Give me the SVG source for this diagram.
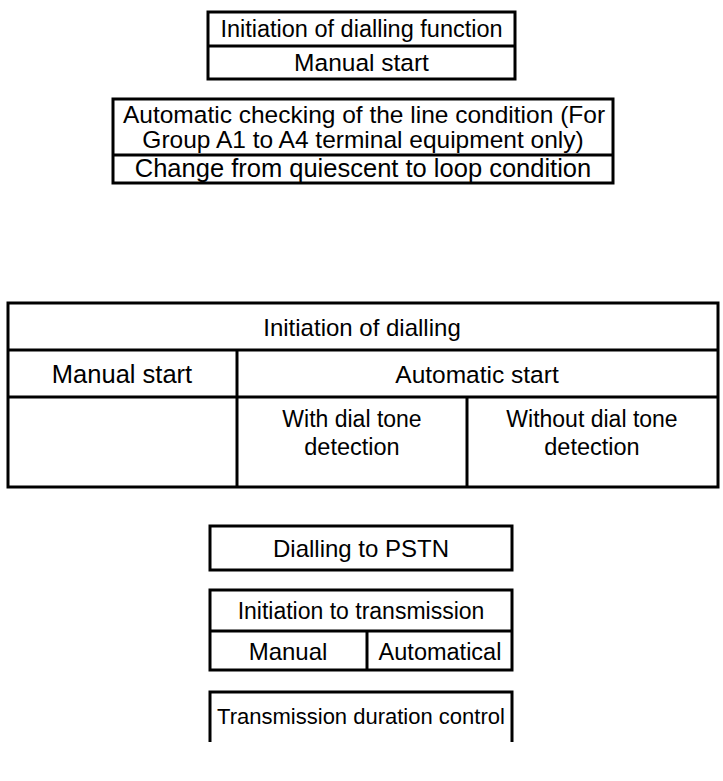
<svg xmlns="http://www.w3.org/2000/svg" width="723" height="781" viewBox="0 0 723 781">
<style>
.b{fill:none;stroke:#000;stroke-width:3}
.l{stroke:#000;stroke-width:3;fill:none}
text{font-family:"Liberation Sans",Arial,sans-serif;font-size:24px;fill:#000;text-anchor:middle}
</style>
<rect width="723" height="781" fill="#fff"/>
<g id="node-dialling-function">
<rect class="b" x="208" y="12" width="307" height="67"/>
<line class="l" x1="208" y1="46" x2="515" y2="46"/>
<text x="361.5" y="37" style="font-size:23.5px">Initiation of dialling function</text>
<text x="361.5" y="71" style="font-size:24.5px">Manual start</text>
</g>
<g id="node-line-check">
<rect class="b" x="113" y="99" width="500" height="84"/>
<line class="l" x1="113" y1="155" x2="613" y2="155"/>
<text x="364" y="123" style="font-size:24.5px">Automatic checking of the line condition (For</text>
<text x="363" y="148" style="font-size:24.5px">Group A1 to A4 terminal equipment only)</text>
<text x="363" y="177" style="font-size:25.5px">Change from quiescent to loop condition</text>
</g>
<g id="node-initiation-dialling">
<rect class="b" x="8" y="303" width="710" height="184"/>
<line class="l" x1="8" y1="350" x2="718" y2="350"/>
<line class="l" x1="8" y1="397" x2="718" y2="397"/>
<line class="l" x1="237" y1="350" x2="237" y2="487"/>
<line class="l" x1="467" y1="397" x2="467" y2="487"/>
<text x="362" y="336">Initiation of dialling</text>
<text x="122" y="383" style="font-size:25.5px">Manual start</text>
<text x="477" y="383" style="font-size:24.5px">Automatic start</text>
<text x="352" y="427" style="font-size:23px">With dial tone</text>
<text x="352" y="455" style="font-size:23.5px">detection</text>
<text x="592" y="427" style="font-size:23px">Without dial tone</text>
<text x="592" y="455" style="font-size:23.5px">detection</text>
</g>
<g id="node-pstn">
<rect class="b" x="210" y="526" width="302" height="44"/>
<text x="361" y="557">Dialling to PSTN</text>
</g>
<g id="node-transmission">
<rect class="b" x="210" y="590" width="302" height="80"/>
<line class="l" x1="210" y1="631" x2="512" y2="631"/>
<line class="l" x1="367" y1="631" x2="367" y2="670"/>
<text x="361" y="619" style="font-size:23px">Initiation to transmission</text>
<text x="288" y="660" style="font-size:24px">Manual</text>
<text x="440" y="660" style="font-size:23.5px">Automatical</text>
</g>
<g id="node-duration">
<path class="l" d="M210,742 V692 H512 V742"/>
<text x="361" y="724" style="font-size:22px">Transmission duration control</text>
</g>
<g id="connectors"></g>
</svg>
